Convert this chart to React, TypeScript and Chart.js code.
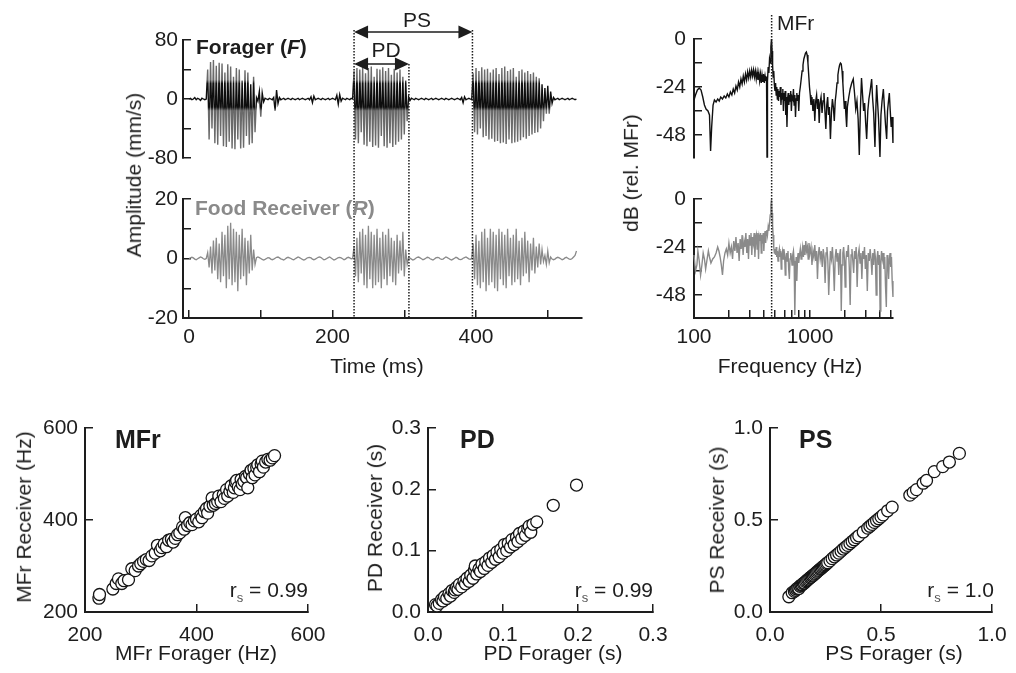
import React, { useEffect, useRef } from "react";
import { Chart, registerables } from "chart.js";

Chart.register(...registerables);

const FONT = "'Liberation Sans', Arial, Helvetica, sans-serif";
const INK = "#1d1d1d";
const FORAGER_COLOR = "#6a6a6a";
const FORAGER_CORE_COLOR = "#0e0e0e";
const RECEIVER_COLOR = "#8a8a8a";

// ---------- Panel A: vibration traces (mm/s), one sample every 2 ms ----------
const SAMPLE_MS = 2;

const FOR_QUIET_0 = [0, 1, -1, 0, 2, -1, 1, 0, -2, 1, 0, -1, 0];
const FOR_PULSE_1 = [
  40, -55, 50, -40, 53, -60, 45, -62, 49, -50, 48, -64, 36, -65, 47, -58, 44, -67, 30, -68,
  42, -55, 40, -67, 25, -66, 39, -50, 36, -62, 20, -60, 30, -45,
];
const FOR_QUIET_1 = [
  2, -3, 10, -24, 8, -4, 1, 0, -1, 1, 0, -1, 2, -16, 12, -6, 2, -1, 0, 1,
  -1, 0, 1, 0, -1, 1, 0, -1, 0, 1, -1, 0, 1, 0, -1, 0, 1, -1, 3, -5,
  4, -1, 0, 1, 0, -1, 1, 0, -1, 0, 1, -1, 0, 1, 0, -1, 5, -7, 6, -3,
  1, 0, -1, 1, 0, -1, 1, 0,
];
const FOR_PULSE_2 = [
  38, -55, 42, -60, 40, -45, 43, -62, 35, -64, 42, -58, 44, -65, 30, -63, 41, -66, 40, -50,
  43, -64, 38, -66, 42, -60, 33, -65, 41, -62, 36, -58, 40, -55, 30, -48, 25, -30,
];
const FOR_QUIET_2 = [
  3, -2, 1, 0, -1, 1, 0, -1, 0, 1, 0, -1, 1, 0, -1, 0, 1, -1, 0, 1,
  0, -1, 0, 1, 0, -1, 1, 0, -1, 0, 1, 0, -1, 0, 1, 0, -1, 2, -5, 3,
  -1, 0, 1, 0, -1,
];
const FOR_PULSE_3 = [
  35, -45, 42, -48, 38, -40, 43, -52, 40, -50, 41, -55, 36, -54, 40, -58, 42, -57, 34, -60,
  42, -59, 44, -61, 38, -55, 40, -60, 42, -59, 30, -58, 38, -56, 40, -52, 36, -54, 38, -50,
  34, -48, 36, -46, 30, -45, 28, -40, 20, -30, 15, -20,
];
const FOR_QUIET_3 = [18, -20, 10, -6, 2, -1, 0, 1, -1, 0, 1, 0, -1, 0, 1, -1, 0, 1, 0, -1, 0];

const REC_QUIET_0 = [0, 0.2, 0.4, 0.2, -0.2, -0.4, -0.1, 0.2, 0.5, 0.3, -0.1, -0.3, 0];
const REC_PULSE_1 = [
  2, -3, 4, -5, 6, -4, 7, -7, 5, -8, 9, -6, 8, -10, 11, -7, 12, -9, 10, -8,
  9, -11, 8, -7, 10, -6, 7, -9, 6, -5, 8, -4, 3, -2,
];
const REC_QUIET_1 = [
  0.3, 0.5, 0.3, 0, -0.3, -0.5, -0.3, 0, 0.3, 0.2, -0.2, -0.4, -0.2, 0.1, 0.4, 0.5, 0.2, -0.1, -0.3, -0.5,
  -0.2, 0.2, 0.4, 0.2, 0, -0.3, -0.4, -0.1, 0.2, 0.5, 0.3, 0, -0.3, -0.5, -0.3, 0.1, 0.3, 0.4, 0.2, -0.2,
  -0.4, -0.2, 0.1, 0.4, 0.5, 0.3, -0.1, -0.4, -0.3, 0, 0.3, 0.5, 0.2, -0.2, -0.5, -0.3, 0, 0.3, 0.4, 0.2,
  -0.1, -0.4, -0.2, 0.2, 0.4, 0.2, -0.1, 0,
];
const REC_PULSE_2 = [
  4, -6, 7, -8, 9, -5, 10, -9, 8, -10, 11, -7, 9, -10, 8, -9, 10, -8, 7, -10,
  9, -7, 8, -9, 10, -6, 7, -8, 6, -9, 8, -5, 6, -4, 9, -6, 3, -2,
];
const REC_QUIET_2 = [
  0.3, 0.1, -0.2, -0.5, -0.3, 0.1, 0.4, 0.5, 0.2, -0.1, -0.4, -0.2, 0.1, 0.4, 0.3, -0.1, -0.3, -0.5, -0.2, 0.2,
  0.4, 0.3, -0.1, -0.3, -0.2, 0.2, 0.5, 0.3, 0, -0.3, -0.5, -0.2, 0.1, 0.4, 0.2, -0.2, -0.4, -0.3, 0.1, 0.3,
  0.5, 0.2, -0.1, -0.3, 0,
];
const REC_PULSE_3 = [
  5, -7, 8, -9, 6, -10, 9, -8, 10, -11, 7, -9, 10, -8, 9, -10, 8, -11, 10, -7,
  9, -9, 8, -10, 10, -6, 7, -9, 8, -8, 10, -7, 6, -9, 7, -6, 9, -5, 6, -8,
  5, -4, 7, -5, 4, -3, 5, -2, 3, -1,
];
const REC_QUIET_3 = [1, -2, 2.5, -1.5, 0.5, -0.2, -0.4, -0.2, 0.2, 0.4, 0.2, -0.1, -0.4, -0.2, 0.2, 0.4, 0.1, -0.2, -0.3, 0, 0.5, 1, 2.5];

// [start time (ms), samples]
const FORAGER_TRACE: [number, number[]][] = [
  [0, FOR_QUIET_0], [26, FOR_PULSE_1], [94, FOR_QUIET_1], [230, FOR_PULSE_2],
  [306, FOR_QUIET_2], [396, FOR_PULSE_3], [500, FOR_QUIET_3],
];
const RECEIVER_TRACE: [number, number[]][] = [
  [0, REC_QUIET_0], [26, REC_PULSE_1], [94, REC_QUIET_1], [230, REC_PULSE_2],
  [306, REC_QUIET_2], [396, REC_PULSE_3], [496, REC_QUIET_3],
];

const PULSE_START_MS = 230;
const PULSE_END_MS = 306.5;
const NEXT_PULSE_MS = 395;

const WAVE_X_TICKS = [0, 100, 200, 300, 400, 500];
const WAVE_X_LABELS = ["0", "", "200", "", "400", ""];
const FOR_Y_TICKS = [-80, -40, 0, 40, 80];
const FOR_Y_LABELS = ["-80", "", "0", "", "80"];
const REC_Y_TICKS = [-20, -10, 0, 10, 20];
const REC_Y_LABELS = ["-20", "", "0", "", "20"];

// ---------- Panel B: spectra, [Hz, dB rel. MFr] ----------
const MFR_HZ = 467;
const FORAGER_SPECTRUM: [number, number][] = [
  [100, -30.5], [103, -28], [107, -25.5], [111, -24.5], [115, -25.5], [119, -29], [123, -33], [127, -35],
  [132, -36], [136, -38], [139, -56], [142, -44], [146, -33], [150, -30.5], [155, -31.5], [160, -30],
  [165, -31], [170, -29], [176, -30], [182, -28.5], [188, -29.5], [194, -27.5], [200, -29], [206, -26.5],
  [212, -28], [218, -25], [224, -27], [230, -23.5], [236, -25.5], [242, -21.5], [248, -24], [254, -20],
  [260, -22.5], [266, -18.5], [272, -21.5], [278, -17.5], [284, -20.5], [290, -16.5], [296, -19.5], [302, -16],
  [308, -19], [314, -15.5], [320, -18.5], [326, -15.5], [332, -19], [338, -16], [344, -20], [350, -16.5],
  [356, -20.5], [362, -17], [368, -21], [374, -17.5], [380, -22], [386, -18], [392, -21.5], [398, -17.5],
  [404, -22], [410, -18.5], [416, -21], [422, -19], [426, -59], [430, -21], [436, -14], [442, -17],
  [448, -10], [454, -12], [460, -4], [466, 0], [471, -6], [476, -13], [481, -19], [487, -16],
  [493, -23], [499, -26], [505, -22], [511, -28], [517, -24], [523, -30], [529, -25], [535, -31],
  [541, -26], [548, -29], [555, -24], [562, -33], [569, -27], [576, -30], [583, -25], [590, -36],
  [597, -27], [604, -31], [611, -26], [618, -38], [625, -29], [633, -44], [641, -30], [649, -27],
  [657, -33], [665, -28], [673, -31], [682, -26], [691, -36], [700, -29], [710, -30], [720, -25],
  [730, -33], [740, -28], [750, -39], [760, -30], [770, -27], [780, -31], [790, -28], [800, -36],
  [812, -27], [825, -24], [840, -20], [855, -16], [870, -13], [885, -10], [900, -8.5], [915, -7],
  [930, -6.5], [945, -8], [960, -12], [975, -18], [990, -24], [1005, -28], [1020, -33], [1040, -29],
  [1060, -36], [1080, -30], [1100, -41], [1120, -31], [1140, -28], [1160, -35], [1180, -30], [1200, -42],
  [1220, -32], [1245, -29], [1270, -37], [1295, -31], [1320, -27], [1345, -36], [1370, -45], [1395, -33],
  [1420, -29], [1445, -38], [1470, -34], [1500, -50], [1530, -37], [1560, -30], [1590, -34], [1620, -41],
  [1650, -31], [1680, -27], [1710, -22], [1740, -18], [1770, -15], [1800, -13], [1830, -12], [1860, -12.5],
  [1890, -16], [1920, -22], [1950, -29], [1980, -35], [2010, -31], [2040, -38], [2070, -44], [2100, -34],
  [2160, -29], [2220, -25], [2290, -22], [2360, -20], [2420, -27], [2480, -35], [2540, -31], [2600, -40],
  [2660, -58], [2720, -35], [2780, -19.5], [2840, -28], [2900, -36], [2960, -32], [3020, -42], [3080, -50],
  [3150, -36], [3220, -30], [3300, -26], [3400, -20], [3460, -29], [3540, -37], [3630, -54], [3700, -34],
  [3755, -23], [3820, -31], [3900, -40], [4010, -59], [4090, -38], [4180, -31], [4290, -25], [4380, -34],
  [4480, -43], [4580, -50], [4660, -36], [4750, -31], [4830, -27], [4920, -36], [5010, -44], [5100, -39],
  [5190, -52],
];
const RECEIVER_SPECTRUM: [number, number][] = [
  [100, -28], [103, -36], [106, -33], [108, -26], [111, -31], [114, -38], [117, -33], [120, -27],
  [123, -30], [126, -35], [129, -31], [133, -26], [136, -29], [140, -32], [145, -30], [150, -29],
  [155, -27], [160, -24], [164, -26], [168, -29], [172, -33], [176, -38], [180, -31], [185, -27],
  [190, -25], [195, -28], [200, -22], [205, -27], [210, -24], [215, -30], [220, -21], [225, -26],
  [230, -19], [235, -27], [240, -22], [245, -31], [250, -20], [255, -25], [260, -18], [265, -28],
  [270, -21], [275, -24], [280, -17], [285, -27], [290, -20], [295, -30], [300, -18], [305, -23],
  [310, -17], [315, -28], [320, -19], [325, -22], [330, -17], [335, -29], [340, -20], [345, -18],
  [350, -25], [355, -17], [360, -30], [365, -19], [370, -21], [375, -17], [380, -27], [385, -18],
  [390, -20], [395, -17], [400, -26], [405, -19], [410, -16], [415, -22], [420, -17], [425, -15.5],
  [430, -18], [436, -14], [442, -16], [448, -12], [454, -8], [460, -3], [466, 0], [471, -7],
  [476, -13], [481, -18], [487, -24], [493, -27], [499, -25], [505, -28], [511, -24], [517, -29],
  [523, -26], [530, -31], [537, -27], [544, -25], [551, -29], [558, -26], [565, -35], [572, -28],
  [580, -26], [588, -30], [596, -25], [604, -28], [612, -38], [620, -30], [628, -27], [637, -31],
  [646, -26], [655, -35], [664, -40], [673, -30], [682, -27], [691, -29], [700, -33], [710, -28],
  [720, -26], [730, -31], [740, -58], [750, -36], [760, -29], [770, -41], [780, -30], [790, -27],
  [800, -32], [812, -28], [825, -25], [838, -30], [851, -27], [864, -24], [877, -29], [890, -23],
  [905, -28], [920, -21], [935, -26], [950, -24], [965, -30], [980, -22], [1000, -27], [1020, -24],
  [1040, -33], [1060, -26], [1080, -29], [1100, -23], [1120, -31], [1140, -26], [1160, -40], [1180, -28],
  [1200, -24], [1225, -30], [1250, -26], [1275, -34], [1300, -25], [1325, -29], [1350, -42], [1375, -27],
  [1400, -24], [1425, -31], [1450, -48], [1475, -36], [1500, -26], [1530, -30], [1560, -24], [1590, -33],
  [1620, -46], [1650, -29], [1680, -25], [1710, -31], [1740, -27], [1770, -38], [1800, -28], [1830, -25],
  [1860, -56], [1890, -33], [1920, -27], [1950, -24], [1980, -30], [2010, -44], [2040, -31], [2070, -26],
  [2100, -29], [2140, -23], [2180, -34], [2220, -53], [2260, -28], [2300, -25], [2340, -31], [2380, -37],
  [2420, -26], [2460, -30], [2500, -24], [2550, -44], [2600, -28], [2650, -25], [2700, -32], [2750, -27],
  [2800, -40], [2850, -26], [2900, -30], [2950, -24], [3000, -35], [3060, -28], [3120, -46], [3180, -27],
  [3240, -31], [3300, -25], [3360, -30], [3420, -38], [3480, -27], [3540, -33], [3600, -25], [3660, -29],
  [3720, -48], [3780, -30], [3840, -26], [3900, -33], [3960, -28], [4020, -56], [4080, -31], [4140, -26],
  [4200, -30], [4270, -27], [4340, -35], [4410, -29], [4480, -44], [4550, -54], [4620, -28], [4690, -31],
  [4760, -40], [4830, -30], [4900, -27], [4970, -34], [5040, -29], [5110, -41], [5190, -49],
];

const SPEC_Y_TICKS = [-48, -36, -24, -12, 0];
const SPEC_Y_LABELS = ["-48", "", "-24", "", "0"];
const SPEC_X_TICKS = [100, 200, 300, 400, 500, 600, 700, 800, 900, 1000, 2000, 3000, 4000, 5000];
const SPEC_X_LABELS = ["100", "", "", "", "", "", "", "", "", "1000", "", "", "", ""];

// ---------- Panel C: forager vs receiver ----------
const MFR_PAIRS: [number, number][] = [
  [225, 230], [226, 238], [250, 250], [256, 262], [260, 272], [266, 262], [270, 268], [278, 270],
  [284, 294], [290, 290], [296, 300], [300, 305], [305, 310], [310, 314], [315, 312], [320, 322],
  [326, 328], [330, 345], [335, 333], [338, 340], [342, 348], [346, 342], [350, 356], [355, 358],
  [358, 352], [362, 360], [366, 368], [370, 372], [375, 385], [378, 380], [380, 405], [384, 388],
  [388, 394], [392, 390], [396, 398], [400, 402], [404, 396], [408, 410], [410, 405], [414, 418],
  [418, 425], [420, 415], [424, 430], [428, 448], [430, 432], [434, 436], [438, 440], [440, 452],
  [444, 440], [448, 455], [450, 447], [454, 466], [456, 452], [460, 462], [462, 474], [466, 460],
  [468, 470], [470, 482], [472, 486], [475, 472], [478, 466], [480, 488], [482, 478], [485, 484],
  [488, 495], [490, 492], [492, 470], [495, 500], [498, 508], [500, 492], [503, 512], [505, 498],
  [508, 514], [510, 520], [513, 505], [516, 522], [518, 528], [520, 515], [524, 526], [528, 532],
  [532, 530], [536, 535], [540, 540],
];
const PD_PAIRS: [number, number][] = [
  [0.010, 0.012], [0.012, 0.010], [0.015, 0.014], [0.018, 0.020], [0.020, 0.018], [0.022, 0.025],
  [0.025, 0.022], [0.028, 0.030], [0.030, 0.026], [0.032, 0.035], [0.035, 0.032], [0.036, 0.036],
  [0.038, 0.040], [0.040, 0.037], [0.042, 0.045], [0.045, 0.041], [0.048, 0.050], [0.050, 0.046],
  [0.052, 0.055], [0.055, 0.050], [0.057, 0.060], [0.060, 0.055], [0.062, 0.068], [0.063, 0.075],
  [0.065, 0.062], [0.068, 0.070], [0.070, 0.066], [0.072, 0.078], [0.075, 0.071], [0.077, 0.082],
  [0.080, 0.076], [0.082, 0.088], [0.085, 0.081], [0.087, 0.092], [0.090, 0.086], [0.092, 0.098],
  [0.095, 0.090], [0.097, 0.102], [0.100, 0.096], [0.102, 0.110], [0.105, 0.100], [0.107, 0.112],
  [0.110, 0.106], [0.112, 0.118], [0.115, 0.110], [0.118, 0.122], [0.120, 0.115], [0.122, 0.128],
  [0.125, 0.120], [0.128, 0.132], [0.130, 0.125], [0.133, 0.136], [0.135, 0.140], [0.137, 0.130],
  [0.140, 0.143], [0.145, 0.147], [0.167, 0.174], [0.198, 0.207],
];
const PS_PAIRS: [number, number][] = [
  [0.085, 0.083], [0.10, 0.105], [0.11, 0.112], [0.115, 0.118], [0.12, 0.125], [0.125, 0.13],
  [0.13, 0.128], [0.135, 0.14], [0.14, 0.145], [0.145, 0.148], [0.15, 0.155], [0.155, 0.158],
  [0.16, 0.165], [0.165, 0.17], [0.17, 0.175], [0.175, 0.18], [0.18, 0.186], [0.185, 0.19],
  [0.19, 0.196], [0.195, 0.2], [0.2, 0.206], [0.205, 0.21], [0.21, 0.216], [0.215, 0.222],
  [0.22, 0.226], [0.225, 0.232], [0.23, 0.236], [0.235, 0.242], [0.24, 0.247], [0.245, 0.252],
  [0.25, 0.257], [0.255, 0.263], [0.26, 0.268], [0.27, 0.278], [0.28, 0.29], [0.29, 0.3],
  [0.3, 0.31], [0.31, 0.32], [0.32, 0.331], [0.33, 0.342], [0.34, 0.352], [0.35, 0.362],
  [0.36, 0.372], [0.37, 0.383], [0.38, 0.393], [0.39, 0.404], [0.4, 0.414], [0.42, 0.435],
  [0.44, 0.456], [0.45, 0.466], [0.46, 0.476], [0.47, 0.487], [0.48, 0.497], [0.49, 0.507],
  [0.5, 0.517], [0.51, 0.528], [0.53, 0.55], [0.55, 0.57], [0.63, 0.635], [0.645, 0.65],
  [0.66, 0.665], [0.69, 0.7], [0.705, 0.715], [0.74, 0.763], [0.778, 0.79], [0.808, 0.815],
  [0.853, 0.862],
];

const MFR_TICKS = [200, 400, 600];
const MFR_LABELS = ["200", "400", "600"];
const PD_TICKS = [0, 0.1, 0.2, 0.3];
const PD_LABELS = ["0.0", "0.1", "0.2", "0.3"];
const PS_TICKS = [0, 0.5, 1];
const PS_LABELS = ["0.0", "0.5", "1.0"];

// ---------- helpers ----------
type Box = { left: number; top: number; width: number; height: number };

function toPoints(segments: [number, number[]][]) {
  const pts: { x: number; y: number }[] = [];
  for (const [t0, vals] of segments) vals.forEach((v, i) => pts.push({ x: t0 + i * SAMPLE_MS, y: v }));
  return pts;
}
const pairPoints = (pairs: [number, number][]) => pairs.map(([x, y]) => ({ x, y }));

function axis(o: {
  pos: "left" | "bottom"; type?: string; min: number; max: number; ticks: number[]; labels: string[];
  size: number; pad: number; display?: boolean;
}) {
  const horizontal = o.pos === "bottom";
  const shown = o.display ?? true;
  return {
    type: o.type ?? "linear",
    position: o.pos,
    display: shown,
    min: o.min,
    max: o.max,
    afterBuildTicks: (s: any) => { s.ticks = o.ticks.map((value) => ({ value })); },
    afterFit: (s: any) => {
      if (!shown) return;
      if (horizontal) s.height = o.size; else s.width = o.size;
    },
    ticks: {
      autoSkip: false, maxRotation: 0, minRotation: 0, padding: o.pad, color: INK,
      font: { family: FONT, size: 21 },
      callback: (_v: any, i: number) => o.labels[i] ?? "",
    },
    grid: { display: true, drawOnChartArea: false, drawTicks: true, tickLength: -8, color: INK, lineWidth: 1.5 },
    border: { display: true, color: INK, width: 2 },
  };
}

function baseOptions(padding: any, scales: any) {
  return {
    responsive: false,
    animation: false,
    events: [],
    layout: { padding },
    plugins: { legend: { display: false }, tooltip: { enabled: false } },
    scales,
  };
}

const WAVE_MIN = -8.4;
const WAVE_MAX = 547.7;

// darker core of the forager trace between these amplitudes (mm/s)
const CORE_TOP = 21;
const CORE_BOTTOM = -11;

function foragerStroke(ctx: any) {
  const chart = ctx.chart;
  const y = chart.scales?.y;
  if (!chart.chartArea || !y) return FORAGER_COLOR;
  const top = y.getPixelForValue(80);
  const bottom = y.getPixelForValue(-80);
  const g = chart.ctx.createLinearGradient(0, top, 0, bottom);
  const at = (v: number) => Math.min(1, Math.max(0, (y.getPixelForValue(v) - top) / (bottom - top)));
  g.addColorStop(0, FORAGER_COLOR);
  g.addColorStop(at(CORE_TOP + 5), FORAGER_COLOR);
  g.addColorStop(at(CORE_TOP), FORAGER_CORE_COLOR);
  g.addColorStop(at(CORE_BOTTOM), FORAGER_CORE_COLOR);
  g.addColorStop(at(CORE_BOTTOM - 5), FORAGER_COLOR);
  g.addColorStop(1, FORAGER_COLOR);
  return g;
}

function arrow(ctx: CanvasRenderingContext2D, x1: number, x2: number, y: number) {
  const head = 14, half = 6.5;
  ctx.beginPath(); ctx.moveTo(x1 + head - 1, y); ctx.lineTo(x2 - head + 1, y); ctx.stroke();
  ctx.beginPath(); ctx.moveTo(x1, y); ctx.lineTo(x1 + head, y - half); ctx.lineTo(x1 + head, y + half); ctx.closePath(); ctx.fill();
  ctx.beginPath(); ctx.moveTo(x2, y); ctx.lineTo(x2 - head, y - half); ctx.lineTo(x2 - head, y + half); ctx.closePath(); ctx.fill();
}

const pulseMarkers = {
  id: "pulseMarkers",
  afterDraw(chart: any) {
    const { ctx, chartArea } = chart;
    const xs = chart.scales.x;
    const a = xs.getPixelForValue(PULSE_START_MS);
    const b = xs.getPixelForValue(PULSE_END_MS);
    const c = xs.getPixelForValue(NEXT_PULSE_MS);
    ctx.save();
    ctx.strokeStyle = INK; ctx.fillStyle = INK; ctx.lineWidth = 1.5;
    ctx.setLineDash([1.5, 1.5]);
    [[a, 30], [b, 64], [c, 30]].forEach(([x, y0]) => {
      ctx.beginPath(); ctx.moveTo(x, y0); ctx.lineTo(x, chartArea.bottom); ctx.stroke();
    });
    ctx.setLineDash([]);
    arrow(ctx, a, c, 32);
    arrow(ctx, a, b, 64);
    ctx.restore();
  },
};

const mfrMarker = {
  id: "mfrMarker",
  afterDraw(chart: any) {
    const { ctx, chartArea } = chart;
    const x = chart.scales.x.getPixelForValue(MFR_HZ);
    ctx.save();
    ctx.strokeStyle = INK; ctx.lineWidth = 1.5; ctx.setLineDash([1.5, 1.5]);
    ctx.beginPath(); ctx.moveTo(x, 15); ctx.lineTo(x, chartArea.bottom); ctx.stroke();
    ctx.restore();
  },
};

// ---------- chart configs ----------
const buildForager = () => ({
  type: "line",
  data: {
    datasets: [{
      data: toPoints(FORAGER_TRACE), borderColor: foragerStroke, borderWidth: 1.4,
      pointRadius: 0, tension: 0, fill: false,
    }],
  },
  options: baseOptions({ left: 0, top: 40, right: 40, bottom: 42 }, {
    x: axis({ pos: "bottom", min: WAVE_MIN, max: WAVE_MAX, ticks: WAVE_X_TICKS, labels: WAVE_X_LABELS, size: 47, pad: 14.4, display: false }),
    y: axis({ pos: "left", min: -80, max: 80, ticks: FOR_Y_TICKS, labels: FOR_Y_LABELS, size: 93, pad: 13 }),
  }),
});

const buildReceiver = () => ({
  type: "line",
  data: { datasets: [{ data: toPoints(RECEIVER_TRACE), borderColor: RECEIVER_COLOR, borderWidth: 1.3, pointRadius: 0, tension: 0, fill: false }] },
  options: baseOptions({ left: 0, top: 199, right: 40, bottom: 0 }, {
    x: axis({ pos: "bottom", min: WAVE_MIN, max: WAVE_MAX, ticks: WAVE_X_TICKS, labels: WAVE_X_LABELS, size: 47, pad: 14.4 }),
    y: axis({ pos: "left", min: -20, max: 20, ticks: REC_Y_TICKS, labels: REC_Y_LABELS, size: 93, pad: 13 }),
  }),
  plugins: [pulseMarkers],
});

const SPEC_MIN_DB = -59.5;
const SPEC_MAX_HZ = 5195;

const buildSpectrum = (pairs: [number, number][], color: string, top: boolean) => ({
  type: "line",
  data: { datasets: [{ data: pairPoints(pairs), borderColor: color, borderWidth: 1.4, pointRadius: 0, tension: 0, fill: false, clip: 6 }] },
  options: baseOptions(top ? { left: 0, top: 39, right: 123, bottom: 42 } : { left: 0, top: 199, right: 123, bottom: 0 }, {
    x: axis({ pos: "bottom", type: "logarithmic", min: 100, max: SPEC_MAX_HZ, ticks: SPEC_X_TICKS, labels: SPEC_X_LABELS, size: 47, pad: 14.4, display: !top }),
    y: axis({ pos: "left", min: SPEC_MIN_DB, max: 0, ticks: SPEC_Y_TICKS, labels: SPEC_Y_LABELS, size: 94, pad: 16 }),
  }),
  plugins: top ? [] : [mfrMarker],
});

const buildScatter = (pairs: [number, number][], min: number, max: number, ticks: number[], labels: string[], yWidth: number) => ({
  type: "scatter",
  data: {
    datasets: [{
      data: pairPoints(pairs), pointRadius: 6, borderWidth: 1.3, borderColor: "#151515",
      backgroundColor: "#ffffff", pointStyle: "circle",
    }],
  },
  options: baseOptions({ left: 0, top: 38, right: 42, bottom: 0 }, {
    x: axis({ pos: "bottom", min, max, ticks, labels, size: 61, pad: 18.4 }),
    y: axis({ pos: "left", min, max, ticks, labels, size: yWidth, pad: 15 }),
  }),
});

// ---------- components ----------
function ChartCanvas({ box, build }: { box: Box; build: () => any }) {
  const ref = useRef<HTMLCanvasElement>(null);
  useEffect(() => {
    const chart = new Chart(ref.current as HTMLCanvasElement, build());
    return () => chart.destroy();
  }, []);
  return (
    <canvas
      ref={ref}
      width={box.width}
      height={box.height}
      style={{ position: "absolute", left: box.left, top: box.top, width: box.width, height: box.height }}
    />
  );
}

function Txt(p: {
  x: number; y: number; anchor?: "start" | "middle" | "end"; rotate?: boolean; size?: number;
  bold?: boolean; color?: string; children: React.ReactNode;
}) {
  const tx = p.anchor === "start" ? "0" : p.anchor === "end" ? "-100%" : "-50%";
  return (
    <div
      style={{
        position: "absolute", left: p.x, top: p.y, whiteSpace: "nowrap", lineHeight: 1.15,
        fontSize: p.size ?? 21, fontWeight: p.bold ? 700 : 400, color: p.color ?? INK, fontFamily: FONT,
        transform: `translate(${tx}, -50%)${p.rotate ? " rotate(-90deg)" : ""}`,
      }}
    >
      {p.children}
    </div>
  );
}

const Rs = ({ v }: { v: string }) => (
  <span>
    r<span style={{ fontSize: 13, position: "relative", top: 5, color: "#555" }}>s</span> = {v}
  </span>
);

export default function App() {
  useEffect(() => {
    document.body.style.margin = "0";
  }, []);
  return (
    <div style={{ position: "fixed", left: 0, top: 0, width: 1016, height: 673, overflow: "hidden", background: "#fff" }}>
      <ChartCanvas box={{ left: 90, top: 0, width: 532, height: 200 }} build={buildForager} />
      <ChartCanvas box={{ left: 90, top: 0, width: 532, height: 365 }} build={buildReceiver} />
      <ChartCanvas box={{ left: 600, top: 0, width: 416, height: 200 }} build={() => buildSpectrum(FORAGER_SPECTRUM, "#111111", true)} />
      <ChartCanvas box={{ left: 600, top: 0, width: 416, height: 365 }} build={() => buildSpectrum(RECEIVER_SPECTRUM, "#8a8a8a", false)} />
      <ChartCanvas box={{ left: 0, top: 390, width: 350, height: 283 }} build={() => buildScatter(MFR_PAIRS, 200, 600, MFR_TICKS, MFR_LABELS, 85)} />
      <ChartCanvas box={{ left: 340, top: 390, width: 355, height: 283 }} build={() => buildScatter(PD_PAIRS, 0, 0.3, PD_TICKS, PD_LABELS, 88)} />
      <ChartCanvas box={{ left: 680, top: 390, width: 354, height: 283 }} build={() => buildScatter(PS_PAIRS, 0, 1, PS_TICKS, PS_LABELS, 90)} />

      {/* Panel A text */}
      <Txt x={134} y={175} rotate>Amplitude (mm/s)</Txt>
      <Txt x={377} y={366}>Time (ms)</Txt>
      <Txt x={196} y={47} anchor="start" bold>Forager (<i>F</i>)</Txt>
      <Txt x={195} y={208} anchor="start" bold color="#8a8a8a">Food Receiver (<i>R</i>)</Txt>
      <Txt x={417} y={20}>PS</Txt>
      <Txt x={386} y={50}>PD</Txt>

      {/* Panel B text */}
      <Txt x={631} y={173} rotate>dB (rel. MFr)</Txt>
      <Txt x={790} y={366}>Frequency (Hz)</Txt>
      <Txt x={777} y={23} anchor="start">MFr</Txt>

      {/* Panel C text */}
      <Txt x={24} y={517} rotate>MFr Receiver (Hz)</Txt>
      <Txt x={196} y={653}>MFr Forager (Hz)</Txt>
      <Txt x={115} y={439} anchor="start" bold size={25}>MFr</Txt>
      <Txt x={308} y={590} anchor="end"><Rs v="0.99" /></Txt>

      <Txt x={375} y={518} rotate>PD Receiver (s)</Txt>
      <Txt x={553} y={653}>PD Forager (s)</Txt>
      <Txt x={460} y={439} anchor="start" bold size={25}>PD</Txt>
      <Txt x={653} y={590} anchor="end"><Rs v="0.99" /></Txt>

      <Txt x={717} y={520} rotate>PS Receiver (s)</Txt>
      <Txt x={894} y={653}>PS Forager (s)</Txt>
      <Txt x={799} y={439} anchor="start" bold size={25}>PS</Txt>
      <Txt x={994} y={590} anchor="end"><Rs v="1.0" /></Txt>
    </div>
  );
}
